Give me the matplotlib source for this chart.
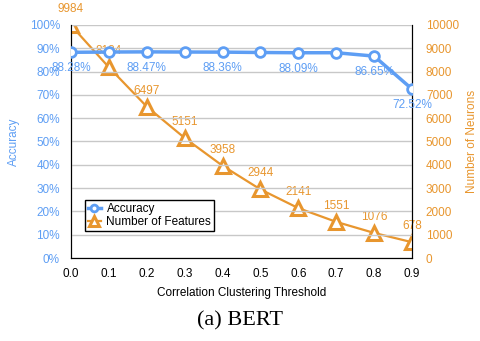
import numpy as np
import matplotlib
matplotlib.use("Agg")
import matplotlib.pyplot as plt
from matplotlib.ticker import FuncFormatter

plt.rcParams['font.family'] = ['Liberation Sans', 'DejaVu Sans']

thresholds = [0.0, 0.1, 0.2, 0.3, 0.4, 0.5, 0.6, 0.7, 0.8, 0.9]
accuracy = [88.28, 88.40, 88.47, 88.40, 88.36, 88.20, 88.09, 88.10, 86.65, 72.52]
neurons = [9984, 8184, 6497, 5151, 3958, 2944, 2141, 1551, 1076, 678]
acc_labeled = [0, 2, 4, 6, 8, 9]

blue = '#5E9EF4'
orange = '#E8962E'
fs = 8.5

fig = plt.figure(figsize=(4.81, 3.41), dpi=100)
ax = fig.add_axes([0.1476, 0.2434, 0.7089, 0.6833])
ax2 = ax.twinx()

# accuracy on the left axis
ax.plot(thresholds, accuracy, color=blue, lw=2.5, marker='o', ms=7,
        mfc='white', mec=blue, mew=2, zorder=3, label='Accuracy')
for i in acc_labeled:
    ax.annotate(f"{accuracy[i]:.2f}%", (thresholds[i], accuracy[i]),
                xytext=(0, -11.5), textcoords='offset points',
                ha='center', va='center', color=blue, fontsize=fs)

ax.set_ylim(0, 100)
ax.set_xlim(0, 0.9)
ax.set_yticks(np.arange(0, 101, 10))
ax.yaxis.set_major_formatter(FuncFormatter(lambda v, p: f"{v:.0f}%"))
ax.set_xticks(thresholds)
ax.set_xticklabels([f"{t:.1f}" for t in thresholds])
ax.tick_params(axis='y', colors=blue, length=0, labelsize=fs, pad=8)
ax.tick_params(axis='x', length=0, labelsize=fs, pad=7)
ax.grid(axis='y', color='#C8C8C8', lw=1)
ax.set_axisbelow(True)
ax.set_ylabel('Accuracy', color=blue, fontsize=fs, labelpad=7)
ax.set_xlabel('Correlation Clustering Threshold', fontsize=fs, labelpad=5)

# neuron counts on the right axis
ax2.plot(thresholds, neurons, color=orange, lw=1.6, marker='^', ms=10,
         mfc='white', mec=orange, mew=2.2, zorder=4, label='Number of Features')
for x, n in zip(thresholds, neurons):
    ax2.annotate(str(n), (x, n), xytext=(0, 11.5), textcoords='offset points',
                 ha='center', va='center', color=orange, fontsize=fs)
ax2.set_ylim(0, 10000)
ax2.set_yticks(np.arange(0, 10001, 1000))
ax2.tick_params(axis='y', colors=orange, length=0, labelsize=fs, pad=10)
ax2.set_ylabel('Number of Neurons', color=orange, fontsize=fs, labelpad=5)

for a in (ax, ax2):
    a.spines['top'].set_visible(False)
    a.spines['left'].set_color('black')
    a.spines['right'].set_color('black')
    a.spines['bottom'].set_color('black')
    a.patch.set_visible(False)
ax.set_zorder(ax2.get_zorder() + 1)

h1, l1 = ax.get_legend_handles_labels()
h2, l2 = ax2.get_legend_handles_labels()
leg = ax.legend(h1 + h2, l1 + l2, loc='lower left', bbox_to_anchor=(0.04, 0.115),
                fontsize=fs, frameon=True, fancybox=False, borderpad=0.25,
                handlelength=1.1, handletextpad=0.5, labelspacing=0.1,
                borderaxespad=0, framealpha=1, markerscale=0.7)
leg.get_frame().set_edgecolor('black')
leg.get_frame().set_linewidth(1)

fig.text(0.5, 0.058, '(a) BERT', ha='center', va='center', fontsize=16,
         family=['Liberation Serif', 'DejaVu Serif'])

fig.savefig('out.png', dpi=100)
